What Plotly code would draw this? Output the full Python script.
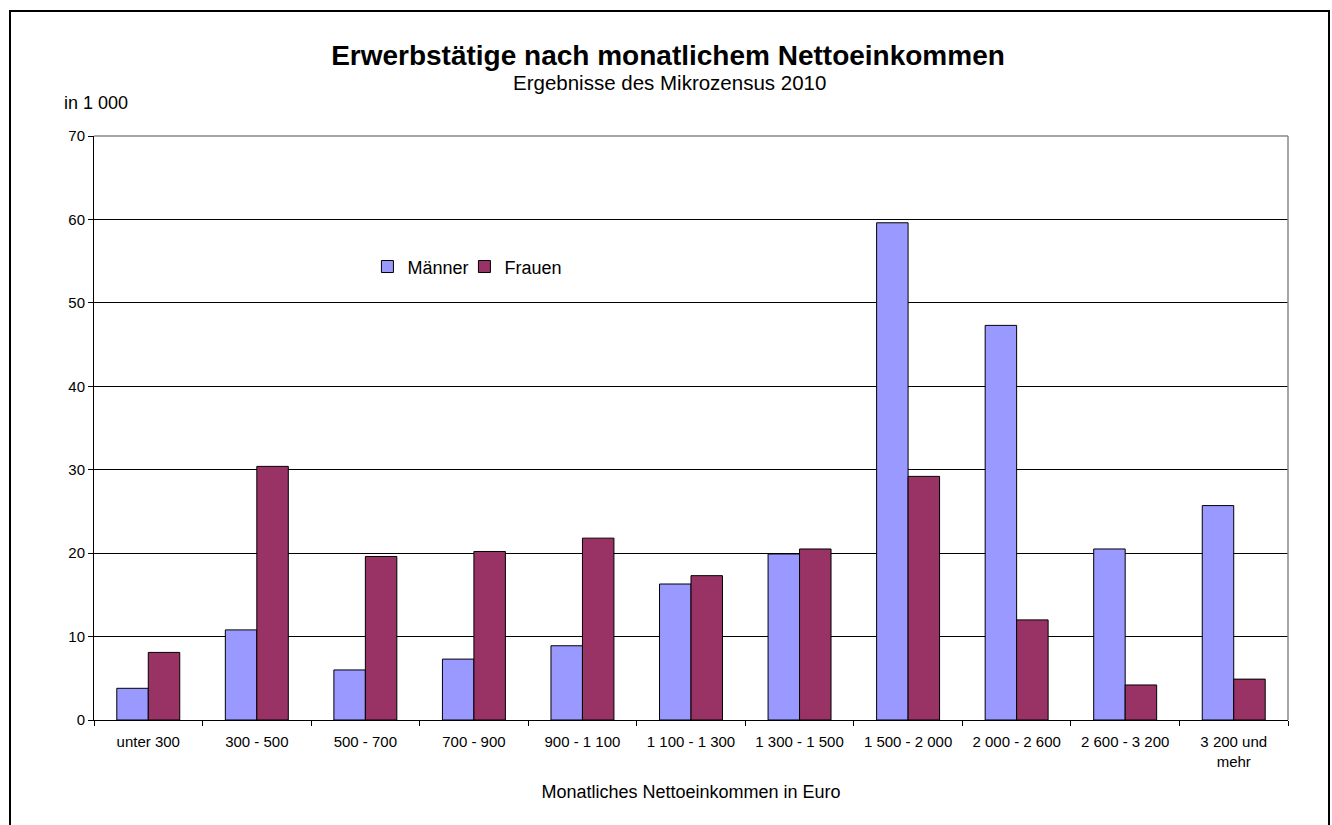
import plotly.graph_objects as go

categories = ["unter 300", "300 - 500", "500 - 700", "700 - 900", "900 - 1 100",
              "1 100 - 1 300", "1 300 - 1 500", "1 500 - 2 000", "2 000 - 2 600",
              "2 600 - 3 200", "3 200 und<br>mehr"]
maenner = [3.8, 10.8, 6.0, 7.3, 8.9, 16.3, 19.9, 59.6, 47.3, 20.5, 25.7]
frauen = [8.1, 30.4, 19.6, 20.2, 21.8, 17.3, 20.5, 29.2, 12.0, 4.2, 4.9]
y_ticks = [0, 10, 20, 30, 40, 50, 60, 70]

FONT = "Liberation Sans, Arial, sans-serif"

fig = go.Figure()
fig.add_trace(go.Bar(x=categories, y=maenner, name="Männer",
                     marker=dict(color="#9999FF", line=dict(color="#000000", width=1))))
fig.add_trace(go.Bar(x=categories, y=frauen, name="Frauen",
                     marker=dict(color="#993366", line=dict(color="#000000", width=1))))

fig.update_layout(
    width=1332, height=825,
    margin=dict(l=94, r=44, t=136, b=105),
    paper_bgcolor="white", plot_bgcolor="white",
    font=dict(family=FONT, color="black", size=14),
    barmode="group", bargap=0.42, bargroupgap=0,
    title=dict(text="<b>Erwerbstätige nach monatlichem Nettoeinkommen</b>",
               x=0.5015, xref="container", xanchor="center",
               y=1 - 55 / 825, yref="container", yanchor="middle",
               font=dict(size=28, family=FONT, color="black")),
    legend=dict(orientation="h", x=0.229, xanchor="left", y=0.776, yanchor="middle",
                font=dict(size=18, family=FONT), bgcolor="rgba(0,0,0,0)",
                traceorder="normal", entrywidth=52, entrywidthmode="pixels"),
    xaxis=dict(type="category", showline=True, linecolor="black", linewidth=1,
               ticks="outside", tickson="boundaries", ticklen=5, tickcolor="black",
               showgrid=False, tickfont=dict(size=15, family=FONT),
               ticklabelstandoff=8,
               title=dict(text="Monatliches Nettoeinkommen in Euro",
                          font=dict(size=18, family=FONT), standoff=16)),
    yaxis=dict(range=[0, 70], tickvals=y_ticks, showline=True, linecolor="black",
               linewidth=1, ticks="outside", ticklen=5, tickcolor="black",
               showgrid=True, gridcolor="black", gridwidth=1,
               tickfont=dict(size=15, family=FONT), zeroline=False),
    annotations=[
        dict(text="Ergebnisse des Mikrozensus 2010", xref="paper", yref="paper",
             x=(669 - 94) / 1194, y=(720 - 83) / 584, xanchor="center", yanchor="middle",
             showarrow=False, font=dict(size=20.5, family=FONT)),
        dict(text="in 1 000", xref="paper", yref="paper",
             x=(62 - 94) / 1194, y=(720 - 103) / 584, xanchor="left", yanchor="middle",
             showarrow=False, font=dict(size=18, family=FONT)),
    ],
    shapes=[
        dict(type="rect", xref="paper", yref="paper",
             x0=(10 - 94) / 1194, x1=(1329 - 94) / 1194,
             y0=(720 - 840) / 584, y1=(720 - 11) / 584,
             line=dict(color="black", width=2), layer="below"),
        dict(type="line", xref="paper", yref="paper", x0=0, x1=1, y0=1, y1=1,
             line=dict(color="#888888", width=1.5), layer="above"),
        dict(type="line", xref="paper", yref="paper", x0=1, x1=1, y0=0, y1=1,
             line=dict(color="#888888", width=1.5), layer="above"),
    ],
)

fig.write_html("out.html", config={"displayModeBar": False},
               post_script="document.body.style.margin='0';")
